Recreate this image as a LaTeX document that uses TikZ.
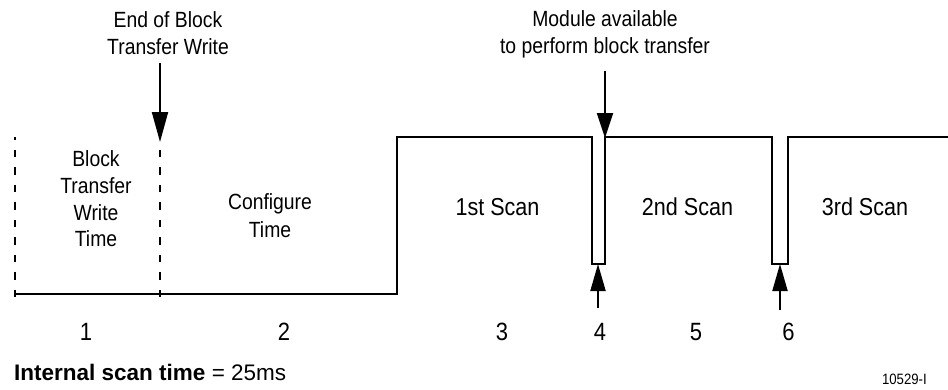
\documentclass[tikz,border=0pt]{standalone}
\usepackage{fontspec}
\setmainfont{Liberation Sans}[FakeStretch=0.88]
\newfontfamily\footfont{Liberation Sans}
\usetikzlibrary{arrows.meta}

\begin{document}
\begin{tikzpicture}[x=1pt,y=-1pt,
  wave/.style={line width=2.2pt, line join=miter},
  guide/.style={line width=2pt, dash pattern=on 7.5pt off 10pt},
  pointer/.style={line width=2pt, -{Triangle[length=27pt,width=15pt]}},
  lbl/.style={inner sep=0pt, anchor=base, font=\fontsize{22}{27}\selectfont},
  scanlbl/.style={inner sep=0pt, anchor=base, font=\fontsize{24.5}{29}\selectfont},
  num/.style={inner sep=0pt, anchor=base, font=\fontsize{25}{30}\selectfont}]
\useasboundingbox (0,0) rectangle (948,389);

% signal trace
\draw[wave] (15,294) -- (397,294) -- (397,137) -- (592,137) -- (592,264)
  -- (605,264) -- (605,137) -- (772,137) -- (772,264) -- (788,264)
  -- (788,137) -- (948,137);

% dashed boundaries of the block transfer write interval
\coordinate (g1b) at (15,297);
\coordinate (g1t) at (15,137);
\coordinate (g2b) at (160,297);
\coordinate (g2t) at (160,147);
\draw[guide] (g1b) -- (g1t);
\draw[guide] (g2b) -- (g2t);

% upper annotations
\node[lbl] (eob1) at (168,27) {End of Block};
\node[lbl] (eob2) at (168,54) {Transfer Write};
\coordinate (eobs) at (160,63);
\coordinate (eobt) at (160,142);
\draw[pointer,-{Triangle[length=30pt,width=16pt]}] (eobs) -- (eobt);

\node[lbl] (mod1) at (605,26.5) {Module available};
\node[lbl] (mod2) at (605,53) {to perform block transfer};
\coordinate (mods) at (605,71);
\coordinate (modt) at (605,138);
\draw[pointer,-{Triangle[length=25pt,width=16pt]}] (mods) -- (modt);

% interval labels
\node[lbl] (bt1) at (96,166) {Block};
\node[lbl] (bt2) at (96,193) {Transfer};
\node[lbl] (bt3) at (96,220) {Write};
\node[lbl] (bt4) at (96,246) {Time};
\node[lbl] (cf1) at (270,209) {Configure};
\node[lbl] (cf2) at (270,237) {Time};
\node[scanlbl] (s1) at (497.5,215) {1st Scan};
\node[scanlbl] (s2) at (687.5,215) {2nd Scan};
\node[scanlbl] (s3) at (865,215) {3rd Scan};

% pointers into the scan gaps
\coordinate (p4s) at (598,308);
\coordinate (p4t) at (598,264);
\coordinate (p6s) at (780,310);
\coordinate (p6t) at (780,264);
\draw[pointer] (p4s) -- (p4t);
\draw[pointer] (p6s) -- (p6t);

% interval numbers
\node[num] (n1) at (86,340) {1};
\node[num] (n2) at (284,340) {2};
\node[num] (n3) at (502,340) {3};
\node[num] (n4) at (600,340) {4};
\node[num] (n5) at (696,340) {5};
\node[num] (n6) at (788.5,340) {6};

% footer
\node[inner sep=0pt, anchor=base west, font=\footfont\fontsize{22.5}{27}\selectfont] (note) at (14,380)
  {\textbf{Internal scan time} = 25ms};
\node[inner sep=0pt, anchor=base east, font=\fontsize{15}{18}\selectfont] (fig) at (927,384) {10529-I};
\end{tikzpicture}
\end{document}
